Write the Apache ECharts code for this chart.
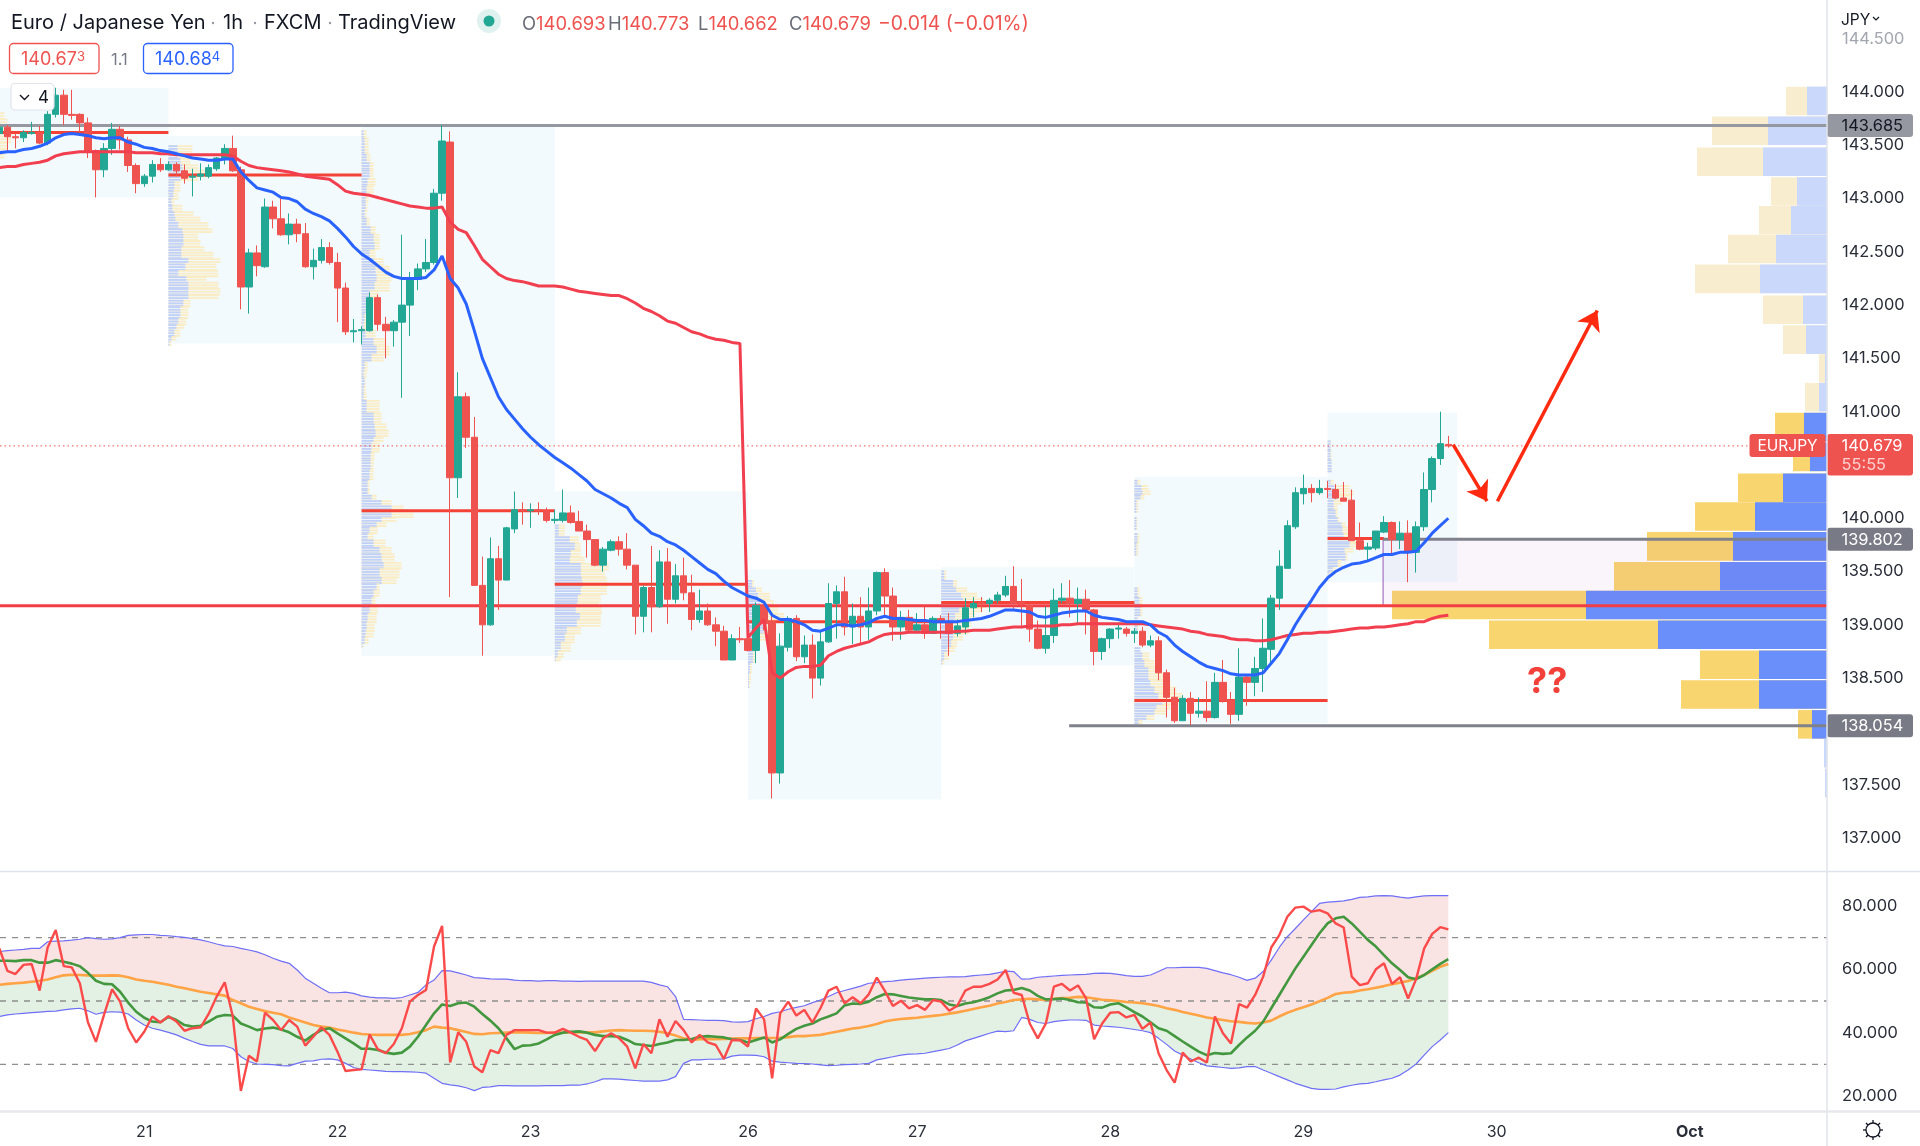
<!DOCTYPE html>
<html lang="en">
<head>
  <meta charset="UTF-8">
  <title>Euro / Japanese Yen 1h</title>
  <script src="https://cdn.jsdelivr.net/npm/echarts@6/dist/echarts.min.js"></script>
  <style>
    body { margin: 0; background: #fff; }
    #chart { width: 1920px; height: 1146px; }
  </style>
</head>
<body>
<div id="chart"></div>
<script>
  // hourly candles, one entry per bar
  const opens = [
    143.61,143.67,143.58,143.57,143.61,143.62,143.52,143.79,143.97,143.79,
    143.79,143.71,143.45,143.27,143.47,143.65,143.55,143.31,143.14,143.21,
    143.32,143.27,143.32,143.26,143.20,143.21,143.21,143.28,143.38,143.47,
    143.27,142.17,142.49,142.36,142.92,142.81,142.66,142.76,142.67,142.36,
    142.42,142.54,142.40,142.16,141.75,141.76,141.76,142.07,141.82,141.76,
    141.84,142.00,142.24,142.34,142.40,143.05,143.53,140.38,141.14,140.76,
    139.37,139.00,139.62,139.42,139.90,140.08,140.07,140.08,140.07,139.98,
    139.98,140.05,139.97,139.88,139.80,139.56,139.70,139.78,139.71,139.56,
    139.08,139.35,139.17,139.59,139.24,139.46,139.30,139.05,139.13,139.00,
    138.94,138.67,138.87,138.87,138.76,139.18,139.03,137.61,138.79,139.06,
    138.70,138.81,138.50,138.84,139.20,139.31,138.98,139.08,138.98,139.13,
    139.49,139.27,138.98,139.07,138.95,139.00,138.92,139.06,139.03,138.92,
    138.98,139.16,139.21,139.20,139.23,139.28,139.36,139.21,139.18,138.96,
    138.78,138.90,139.23,139.25,139.20,139.24,139.14,138.75,138.87,138.96,
    138.96,138.92,138.94,138.81,138.85,138.55,138.32,138.10,138.31,138.17,
    138.19,138.13,138.46,138.29,138.16,138.51,138.46,138.59,138.77,139.25,
    139.53,139.92,140.23,140.28,140.24,140.28,140.27,140.19,140.17,139.79,
    139.71,139.72,139.87,139.96,139.80,139.86,139.68,139.92,140.27,140.56,
    140.693
  ];
  const closes = [
    143.67,143.58,143.57,143.62,143.62,143.52,143.79,143.97,143.79,143.78,
    143.71,143.45,143.27,143.47,143.65,143.55,143.31,143.14,143.21,143.32,
    143.27,143.32,143.26,143.19,143.21,143.23,143.29,143.38,143.47,143.26,
    142.17,142.49,142.37,142.92,142.81,142.66,142.76,142.67,142.36,142.42,
    142.54,142.40,142.16,141.75,141.76,141.77,142.07,141.82,141.76,141.84,
    142.00,142.25,142.34,142.40,143.05,143.54,140.38,141.14,140.76,139.37,
    139.00,139.62,139.42,139.91,140.08,140.07,140.08,140.07,139.98,139.99,
    140.05,139.96,139.88,139.80,139.56,139.71,139.78,139.71,139.56,139.08,
    139.35,139.17,139.59,139.24,139.46,139.30,139.05,139.13,139.00,138.94,
    138.67,138.87,138.86,138.76,139.18,139.01,137.61,138.80,139.06,138.70,
    138.81,138.50,138.84,139.20,139.31,138.98,139.08,138.98,139.13,139.49,
    139.27,138.98,139.07,138.95,139.00,138.92,139.06,139.03,138.92,138.99,
    139.16,139.20,139.20,139.23,139.28,139.36,139.20,139.19,138.96,138.78,
    138.90,139.23,139.25,139.20,139.24,139.14,138.75,138.87,138.96,138.97,
    138.92,138.94,138.81,138.85,138.55,138.32,138.10,138.31,138.17,138.19,
    138.13,138.46,138.29,138.16,138.51,138.46,138.59,138.78,139.25,139.55,
    139.93,140.24,140.28,140.24,140.28,140.27,140.19,140.16,139.79,139.71,
    139.73,139.88,139.96,139.80,139.86,139.68,139.92,140.27,140.56,140.70,
    140.679
  ];
  const highs = [
    143.70,143.69,143.61,143.64,143.72,143.68,143.82,144.04,144.02,144.02,
    143.80,143.76,143.46,143.52,143.71,143.68,143.58,143.33,143.23,143.36,
    143.38,143.35,143.34,143.32,143.28,143.33,143.32,143.39,143.51,143.59,
    143.30,142.53,142.56,143.00,142.98,143.00,142.86,142.81,142.77,142.53,
    142.62,142.59,142.49,142.21,141.87,141.80,142.12,142.10,141.89,141.86,
    142.66,142.31,142.39,142.62,143.09,143.69,143.63,141.37,141.18,140.95,
    139.64,139.82,139.74,139.92,140.25,140.15,140.14,140.15,140.10,140.08,
    140.27,140.12,140.07,139.94,139.80,139.73,139.80,139.83,139.86,139.56,
    139.37,139.74,139.70,139.72,139.57,139.63,139.47,139.33,139.20,139.07,
    138.99,138.91,138.98,138.88,139.21,139.19,139.11,138.92,139.08,139.09,
    138.90,138.91,138.93,139.39,139.37,139.45,139.20,139.26,139.35,139.50,
    139.53,139.35,139.13,139.14,139.11,139.17,139.08,139.09,139.11,139.05,
    139.25,139.26,139.26,139.25,139.31,139.46,139.55,139.43,139.20,139.04,
    139.17,139.34,139.39,139.42,139.35,139.33,139.15,138.88,138.97,139.02,
    138.98,138.97,138.98,138.90,138.89,138.58,138.41,138.34,138.37,138.32,
    138.47,138.55,138.67,138.37,138.78,138.53,138.70,139.06,139.28,139.70,
    139.98,140.29,140.41,140.32,140.36,140.35,140.32,140.34,140.27,139.96,
    139.77,139.88,140.02,139.97,139.97,139.98,139.97,140.43,140.58,141.00,
    140.773
  ];
  const lows = [
    143.58,143.44,143.47,143.53,143.60,143.51,143.50,143.76,143.69,143.74,
    143.62,143.38,143.01,143.20,143.41,143.46,143.25,143.05,143.11,143.15,
    143.25,143.26,143.21,143.14,143.02,143.17,143.19,143.26,143.32,143.25,
    141.96,141.92,142.27,142.35,142.72,142.65,142.57,142.59,142.35,142.24,
    142.39,142.38,141.84,141.72,141.65,141.63,141.75,141.76,141.50,141.61,
    141.13,141.71,142.14,142.31,142.38,142.98,139.26,140.19,140.66,139.37,
    138.71,138.99,139.14,139.42,139.86,139.94,139.91,140.03,139.96,139.95,
    139.96,139.95,139.88,139.63,139.55,139.50,139.69,139.65,139.52,138.91,
    138.93,138.93,139.16,139.01,139.20,139.23,138.95,139.02,138.99,138.80,
    138.67,138.67,138.83,138.75,138.64,138.95,137.37,137.51,138.75,138.66,
    138.64,138.31,138.43,138.83,138.87,138.90,138.82,138.83,138.86,139.09,
    139.08,138.85,138.86,138.92,138.92,138.87,138.92,138.87,138.71,138.89,
    138.91,139.07,139.12,139.12,139.20,139.26,139.15,138.99,138.84,138.77,
    138.73,138.83,139.20,139.07,139.01,138.91,138.62,138.67,138.78,138.87,
    138.89,138.83,138.79,138.79,138.48,138.13,138.08,138.10,138.06,138.13,
    138.09,138.12,138.27,138.07,138.10,138.24,138.33,138.37,138.64,139.14,
    139.53,139.90,140.13,140.15,140.22,140.19,140.18,140.16,139.79,139.70,
    139.60,139.70,139.86,139.65,139.71,139.40,139.49,139.88,140.15,140.50,
    140.662
  ];

  // moving averages on price
  const fastMa = [
    143.43,143.44,143.44,143.46,143.47,143.49,143.52,143.57,143.60,143.61,
    143.60,143.59,143.57,143.56,143.57,143.57,143.53,143.51,143.48,143.47,
    143.45,143.44,143.42,143.40,143.38,143.37,143.36,143.36,143.37,143.37,
    143.25,143.17,143.10,143.08,143.06,143.01,143.00,142.97,142.90,142.86,
    142.83,142.79,142.72,142.64,142.55,142.48,142.43,142.37,142.31,142.27,
    142.25,142.25,142.25,142.26,142.33,142.46,142.25,142.16,142.01,141.76,
    141.50,141.32,141.14,141.02,140.93,140.84,140.76,140.69,140.63,140.57,
    140.52,140.47,140.41,140.35,140.27,140.23,140.19,140.14,140.10,139.99,
    139.93,139.86,139.83,139.78,139.75,139.70,139.64,139.58,139.52,139.48,
    139.41,139.35,139.31,139.27,139.25,139.21,139.09,139.05,139.05,139.03,
    139.00,138.95,138.94,138.97,139.00,139.00,138.99,139.00,139.02,139.06,
    139.08,139.06,139.06,139.05,139.04,139.04,139.03,139.03,139.03,139.03,
    139.04,139.05,139.06,139.08,139.11,139.14,139.14,139.13,139.12,139.08,
    139.07,139.09,139.11,139.12,139.13,139.13,139.09,139.07,139.06,139.05,
    139.03,139.03,139.03,139.00,138.93,138.89,138.81,138.75,138.70,138.65,
    138.61,138.59,138.57,138.54,138.53,138.53,138.53,138.55,138.64,138.73,
    138.86,139.00,139.12,139.23,139.35,139.44,139.50,139.54,139.57,139.58,
    139.60,139.63,139.66,139.66,139.68,139.68,139.69,139.77,139.86,139.93,
    140.00
  ];
  const slowMa = [
    143.29,143.30,143.30,143.32,143.33,143.34,143.36,143.40,143.42,143.43,
    143.44,143.44,143.44,143.44,143.44,143.44,143.44,143.43,143.43,143.43,
    143.42,143.42,143.41,143.41,143.41,143.41,143.41,143.41,143.41,143.40,
    143.35,143.31,143.29,143.28,143.27,143.26,143.25,143.23,143.21,143.20,
    143.19,143.18,143.13,143.07,143.05,143.04,143.03,143.01,142.99,142.97,
    142.95,142.93,142.92,142.91,142.91,142.92,142.78,142.71,142.68,142.56,
    142.43,142.36,142.29,142.25,142.23,142.22,142.20,142.18,142.18,142.18,
    142.17,142.15,142.13,142.12,142.11,142.10,142.09,142.09,142.06,142.02,
    141.97,141.94,141.90,141.85,141.83,141.79,141.75,141.73,141.70,141.68,
    141.67,141.65,141.64,138.88,138.97,139.05,138.55,138.50,138.56,138.60,
    138.61,138.61,138.62,138.71,138.75,138.78,138.80,138.82,138.84,138.88,
    138.91,138.92,138.92,138.93,138.93,138.93,138.93,138.93,138.93,138.94,
    138.94,138.95,138.95,138.95,138.96,138.97,138.98,138.98,138.99,138.99,
    138.99,138.99,139.00,139.00,139.01,139.01,139.01,139.01,139.01,139.01,
    139.01,139.01,139.01,139.00,138.99,138.98,138.97,138.96,138.94,138.93,
    138.91,138.90,138.89,138.87,138.86,138.86,138.85,138.85,138.86,138.88,
    138.90,138.91,138.92,138.92,138.93,138.93,138.94,138.95,138.96,138.97,
    138.97,138.98,138.98,138.99,139.00,139.01,139.03,139.03,139.06,139.08,
    139.09
  ];

  // RSI pane
  const rsi = [
    66.6,59.5,58.5,61.4,61.7,53.3,66.9,72.4,61.0,60.6,
    55.6,43.3,37.1,45.6,53.7,49.8,41.4,36.9,40.3,45.1,
    43.2,45.2,43.5,40.6,41.4,41.7,45.9,51.4,55.9,45.1,
    21.6,32.7,30.9,46.3,44.0,40.8,44.0,41.9,35.9,38.7,
    41.7,39.3,34.0,27.9,28.2,28.4,39.4,34.8,33.5,36.4,
    41.4,49.8,51.9,53.5,67.2,73.7,30.6,40.1,37.1,29.3,
    27.5,34.5,33.5,39.3,40.8,40.8,40.8,40.8,40.0,40.0,
    41.2,40.0,38.7,37.7,34.2,38.2,39.8,38.2,35.6,28.7,
    36.4,33.5,44.2,38.7,43.7,40.8,36.9,39.3,36.9,36.1,
    31.7,37.7,37.6,35.6,47.6,44.2,25.6,46.1,49.8,45.4,
    47.2,43.2,47.7,53.3,54.5,49.3,51.2,49.3,52.1,57.4,
    53.2,48.4,50.1,47.7,48.7,47.2,50.3,49.8,46.9,48.5,
    53.3,54.5,54.5,55.4,56.8,59.8,52.6,51.9,42.9,38.2,
    42.9,54.5,55.4,53.3,54.9,50.8,37.9,42.9,46.3,46.5,
    44.8,45.6,41.2,43.2,33.5,28.2,24.2,33.7,30.9,32.1,
    30.6,45.1,39.8,36.6,49.0,47.9,51.9,57.7,66.9,70.8,
    76.6,79.5,79.8,78.2,78.7,77.7,74.5,73.2,57.7,55.0,
    55.6,60.0,61.9,55.4,57.5,50.8,56.9,66.6,71.2,73.3,
    72.6
  ];
  const rsiMa = [
    62.7,62.7,62.6,62.9,62.9,62.1,62.1,62.9,62.4,61.8,
    61.0,58.9,56.4,55.4,55.3,52.9,49.5,46.6,44.7,43.5,
    43.3,45.0,44.0,42.4,41.9,42.2,43.5,45.0,45.6,45.4,
    42.9,41.9,40.8,41.3,41.6,41.0,40.1,38.7,37.5,39.3,
    40.8,41.4,39.8,38.2,36.6,34.9,34.9,34.5,33.7,33.3,
    33.7,35.6,38.7,42.4,46.1,48.9,48.4,49.3,49.5,48.2,
    45.9,43.8,41.4,38.2,34.8,35.9,36.0,36.6,37.9,39.3,
    40.0,40.3,40.4,40.0,39.3,38.9,38.9,38.7,37.7,36.4,
    36.1,35.8,36.4,36.9,37.7,37.7,38.0,38.7,38.9,38.7,
    38.5,37.9,37.7,36.9,37.7,38.5,36.9,37.9,39.6,41.2,
    42.2,42.9,44.2,45.1,46.1,48.6,49.2,49.1,49.8,51.2,
    52.2,52.1,51.6,51.1,50.8,50.5,50.5,50.3,48.9,48.4,
    49.2,49.6,50.3,51.2,52.4,53.3,53.5,54.1,53.3,51.6,
    50.5,50.6,50.8,50.3,49.6,49.5,48.0,47.9,48.9,49.3,
    48.0,46.5,45.1,43.3,41.4,40.6,38.9,37.2,35.6,34.0,
    32.9,33.6,33.3,33.5,36.1,38.5,40.6,43.5,47.7,51.9,
    56.1,60.3,64.0,67.7,71.4,74.5,76.1,76.6,74.5,71.9,
    69.3,67.2,64.5,61.9,59.8,57.5,56.9,58.2,60.0,61.7,
    63.2
  ];
  const rsiLongMa = [
    55.1,55.4,55.6,55.8,56.1,56.4,56.8,57.5,58.1,58.3,
    58.2,58.1,58.0,58.0,58.1,58.0,57.5,56.8,56.4,56.1,
    55.6,55.1,54.5,54.0,53.5,52.9,52.5,52.1,51.7,50.3,
    49.3,48.2,47.5,46.8,46.3,45.8,44.8,44.0,43.2,42.4,
    41.9,41.6,41.0,40.5,40.0,39.6,39.4,39.3,39.3,39.3,
    39.3,39.6,40.1,40.8,41.9,41.6,41.4,40.8,40.2,39.6,
    39.5,39.8,39.9,40.0,40.1,40.1,40.0,39.9,39.9,40.0,
    40.0,40.1,40.1,40.1,40.1,40.4,40.7,40.8,40.7,40.6,
    40.6,40.5,40.3,39.8,39.1,38.2,37.7,37.9,37.9,37.9,
    38.0,38.1,38.2,38.2,38.3,38.3,38.3,38.4,38.6,38.9,
    38.9,39.1,39.3,39.8,40.3,40.8,41.3,41.6,42.1,42.7,
    43.5,44.0,44.3,44.5,44.7,45.0,45.3,45.6,46.0,46.4,
    46.9,47.5,48.0,48.5,49.2,49.7,50.3,50.5,50.7,50.5,
    50.3,50.7,50.9,51.0,51.3,51.2,50.8,50.4,50.2,50.0,
    49.7,49.5,49.3,48.9,48.4,47.7,47.2,46.5,46.0,45.4,
    44.8,44.4,44.0,43.6,43.4,43.1,42.9,43.2,43.8,45.1,
    46.3,47.2,48.0,48.9,49.9,51.0,52.2,52.6,52.8,53.3,
    53.7,54.2,54.7,55.3,55.8,56.3,57.2,58.2,59.5,60.8,
    61.7
  ];
  const rsiUpper = [
    65.6,65.9,66.1,66.3,66.6,66.6,68.7,68.9,69.0,69.2,
    69.5,70.0,69.7,69.5,69.6,70.0,70.7,70.9,71.0,71.0,
    70.7,70.6,70.3,70.1,69.7,69.3,68.7,68.0,67.4,67.2,
    66.6,66.1,65.5,64.6,63.5,62.6,61.9,59.8,57.2,55.6,
    54.0,52.6,52.6,52.8,52.4,51.6,51.2,51.0,51.0,50.8,
    51.1,51.9,52.7,55.1,56.6,59.6,59.5,58.9,58.2,57.4,
    57.2,57.0,56.9,56.9,56.6,56.4,56.4,56.3,56.4,56.4,
    56.3,56.3,56.2,56.3,56.3,56.3,56.3,56.3,56.3,56.3,
    56.3,55.9,55.1,54.5,51.4,44.2,44.1,44.0,43.9,43.9,
    43.8,43.4,43.3,43.5,44.4,45.1,46.1,46.6,47.4,48.0,
    48.5,49.5,50.3,51.4,52.6,53.3,54.0,54.7,55.6,55.8,
    56.1,56.3,56.6,56.8,57.0,57.2,57.4,57.5,57.6,57.6,
    57.7,58.0,58.2,58.4,58.9,59.4,59.3,56.9,57.0,57.5,
    57.7,57.9,58.1,58.2,58.3,58.4,58.7,58.8,58.7,58.4,
    58.0,57.8,57.8,58.2,59.3,60.5,60.5,60.6,60.6,60.6,
    60.3,59.6,58.9,58.3,57.5,56.5,57.2,59.3,62.9,66.9,
    70.3,72.9,75.6,78.2,80.8,81.2,81.4,81.6,82.1,82.7,
    82.9,83.2,83.3,83.2,82.8,82.5,82.9,83.2,83.3,83.3,
    83.3
  ];
  const rsiLower = [
    45.1,45.6,45.9,46.1,46.3,46.5,46.7,46.8,47.2,47.5,
    47.7,46.9,45.8,46.4,46.6,46.5,45.9,44.0,42.4,41.4,
    40.8,40.1,39.3,38.2,37.2,36.3,35.8,35.8,35.8,35.0,
    32.4,30.9,30.1,30.0,29.9,29.6,29.5,30.3,31.0,31.1,
    31.6,31.7,31.4,30.3,29.0,28.4,28.2,28.0,27.8,27.7,
    27.7,27.6,27.5,27.2,25.6,24.0,23.5,23.2,22.6,21.7,
    22.7,22.9,23.3,23.3,23.2,23.2,23.2,23.2,23.3,23.3,
    23.3,23.4,23.4,23.8,24.5,25.4,25.4,25.3,25.1,24.9,
    24.7,24.7,24.7,25.1,26.1,30.3,31.4,31.4,31.6,31.6,
    31.7,32.6,32.9,32.9,32.8,32.4,31.0,30.7,30.5,30.3,
    30.2,30.1,29.8,29.6,29.7,29.9,30.0,30.1,30.3,31.4,
    31.9,32.4,32.9,33.2,33.3,33.5,34.0,34.5,35.0,36.1,
    37.4,38.2,39.0,39.8,40.5,40.3,40.6,44.8,44.2,43.2,
    42.9,43.5,43.8,44.0,44.0,43.9,42.4,42.1,41.9,41.7,
    41.4,41.0,40.6,40.0,38.2,36.3,34.2,32.9,31.7,30.5,
    29.5,29.3,29.0,28.7,28.9,29.3,29.3,28.2,27.2,26.1,
    25.1,24.0,23.2,22.4,22.1,22.1,22.2,22.9,23.4,23.8,
    24.0,24.5,25.1,25.6,26.6,28.2,30.1,32.9,35.6,37.7,
    40.0
  ];
  const rsiLevels = [70, 50, 30];

  // session boxes (bar index and price range)
  const sessionStart = [0, 21, 45, 69, 93, 117, 141, 165];
  const sessionEnd = [21, 45, 69, 93, 117, 141, 165, 181.1];
  const sessionHigh = [144.04, 143.59, 143.69, 140.25, 139.52, 139.54, 140.39, 140.99];
  const sessionLow = [143.01, 141.64, 138.71, 138.67, 137.36, 138.62, 138.08, 139.40];
  const pocPrice = [143.62, 143.22, 140.07, 139.38, 139.03, 139.21, 138.29, 139.81];
  const pocEnd = [21, 45, 69, 93, 117, 141, 165, 172];

  // session volume profiles: price of the row, buy part, whole row
  const s0Price = [143.81,143.75,143.70,143.64,143.59,143.53,143.47,143.42];
  const s0Buy = [0,0,0,0,0,0,0,0];
  const s0Total = [5,8,12,14,12,8,7,5];
  const s1Price = [143.50,143.44,143.38,143.32,143.27,143.21,143.16,143.08,143.00,142.94,142.88,142.83,142.78,142.72,142.67,142.61,142.55,142.50,142.44,142.39,142.33,142.27,142.22,142.16,142.10,142.05,141.99,141.94,141.88,141.82,141.77,141.71,141.66];
  const s1Buy = [9,9,12,14,15,12,6,5,3,4,6,7,10,14,15,15,13,13,20,17,10,18,20,20,20,15,12,12,10,8,6,3,1];
  const s1Total = [24,15,22,30,40,30,12,10,6,14,25,32,40,44,30,32,36,45,52,48,50,38,50,52,50,22,20,20,18,16,12,8,3];
  const s2Price = [143.64,143.57,143.49,143.42,143.34,143.27,143.19,143.12,143.04,142.97,142.89,142.82,142.74,142.67,142.59,142.52,142.44,142.37,142.29,142.22,142.14,142.07,141.99,141.92,141.84,141.77,141.69,141.62,141.54,141.47,141.39,141.32,141.24,141.17,141.11,140.99,140.89,140.83,140.76,140.71,140.62,140.55,140.45,140.36,140.27,140.22,140.17,140.12,140.07,140.01,139.96,139.92,139.86,139.80,139.73,139.67,139.59,139.53,139.45,139.39,139.33,139.26,139.17,139.11,139.03,138.95,138.89,138.83];
  const s2Buy = [2,3,3,5,8,8,6,5,4,4,3,5,9,12,13,8,12,14,15,13,8,6,5,3,2,4,12,15,10,3,2,3,2,2,5,12,13,14,12,10,9,9,8,6,6,10,20,30,30,20,15,8,6,12,18,20,22,18,20,15,12,10,8,6,5,4,3,1];
  const s2Total = [5,7,7,9,12,12,14,12,7,6,5,8,14,18,18,14,22,28,30,28,17,12,8,6,5,14,24,28,22,6,5,4,4,5,18,20,25,27,22,18,13,12,12,8,8,15,30,42,52,35,25,16,12,24,30,33,40,38,35,18,18,14,16,15,13,12,7,2];
  const s3Price = [139.94,139.83,139.77,139.70,139.64,139.58,139.51,139.45,139.40,139.35,139.28,139.21,139.17,139.11,139.05,138.98,138.92,138.84,138.76,138.70];
  const s3Buy = [4,15,20,16,15,26,26,27,28,26,23,22,21,25,22,12,10,6,3,1];
  const s3Total = [10,24,26,26,30,54,50,52,53,52,46,44,47,46,46,26,20,16,9,6];
  const s4Price = [139.42,139.35,139.30,139.23,139.17,139.11,139.05,138.98,138.92,138.86,138.76,138.64,138.55,138.45];
  const s4Buy = [4,8,10,12,14,16,18,16,12,8,5,2,1,1];
  const s4Total = [6,14,22,26,30,36,28,22,18,10,7,4,3,2];
  const s5Price = [139.51,139.42,139.35,139.30,139.25,139.20,139.16,139.11,139.05,138.98,138.92,138.86,138.79,138.74,138.67];
  const s5Buy = [3,12,15,20,22,25,18,14,12,14,12,10,6,3,1];
  const s5Total = [5,16,26,36,42,45,40,34,30,28,22,16,14,8,3];
  const s6Price = [140.36,140.31,140.26,140.22,140.17,140.01,139.86,139.77,139.35,139.26,139.20,139.07,138.79,138.74,138.67,138.60,138.55,138.48,138.42,138.36,138.29,138.25,138.20,138.15,138.11];
  const s6Buy = [3,7,8,6,2,2,3,2,3,5,6,3,6,8,10,14,14,16,20,24,28,22,20,12,4];
  const s6Total = [6,14,16,10,4,3,5,4,5,8,8,4,6,15,20,25,30,36,42,48,50,36,32,20,8];
  const s7Price = [140.73,140.64,140.55,140.36,140.31,140.26,140.22,140.17,140.12,140.08,140.01,139.96,139.92,139.86,139.81,139.77,139.72,139.67,139.61,139.54,139.50];
  const s7Buy = [3,3,4,3,7,8,10,6,6,8,10,14,15,16,22,22,17,18,10,5,2];
  const s7Total = [3,4,4,6,22,26,24,14,10,10,12,18,22,27,30,30,26,20,14,8,4];

  // visible range volume profile docked on the price axis
  const rangeHigh = [144.05,143.77,143.48,143.20,142.93,142.66,142.38,142.09,141.81,141.54,141.27,140.99,140.71,140.42,140.15,139.87,139.59,139.32,139.04,138.76,138.48,138.20,137.93,137.65];
  const rangeBuy = [20,59,64,30,36,51,67,24,21,2,8,23,17,44,72,94,107,241,169,68,68,15,3,2];
  const rangeTotal = [41,115,130,56,68,99,132,64,44,8,22,52,34,89,132,180,213,435,338,127,146,29,3,2];
  const rangeValueArea = [0,0,0,0,0,0,0,0,0,0,0,1,1,1,1,1,1,1,1,1,1,1,0,0];

  // drawn levels and annotations
  const topLevel = 143.685, midLevel = 139.802, lowLevel = 138.054, mainLevel = 139.18, lastPrice = 140.679;
  const midLevelStart = 171.9, lowLevelStart = 132.9;
  const downArrow = [[180.6, 140.69], [184.8, 140.16]];
  const upArrow = [[186.1, 140.16], [198.5, 141.95]];

  const priceTicks = [137, 137.5, 138.5, 139, 139.5, 140, 141, 141.5, 142, 142.5, 143, 143.5, 144, 144.5];
  const rsiTicks = [20, 40, 60, 80];
  const dayTicks = [18, 42, 66, 93, 114, 138, 162, 186, 210];
  const dayLabels = ['21', '22', '23', '26', '27', '28', '29', '30', 'Oct'];

  const tagPrices = [topLevel, midLevel, lowLevel];
  const tagLabels = ['143.685', '139.802', '138.054'];

  const ohlcNames = ['O', 'H', 'L', 'C'];
  const ohlcValues = ['140.693', '140.773', '140.662', '140.679'];
  const ohlcLeft = [522, 608, 698, 789];

  const X_MIN = 0.08, X_MAX = 227.04;
  const FONT = 'Inter, "Liberation Sans", sans-serif';
  const TEAL = '#22a795', RED = '#ef5350';

  function xy(values) {
    return values.map(function (v, i) { return [i, v]; });
  }

  function hLine(price, from, to, color, width, gridIndex, z, type) {
    return {
      type: 'line', xAxisIndex: gridIndex, yAxisIndex: gridIndex, z: z, silent: true,
      showSymbol: false, symbol: 'none', animation: false,
      lineStyle: { color: color, width: width, type: type || 'solid' },
      data: [[from, price], [to, price]]
    };
  }

  function maLine(values, color, width, gridIndex, z) {
    return {
      type: 'line', xAxisIndex: gridIndex, yAxisIndex: gridIndex, z: z, silent: true,
      showSymbol: false, symbol: 'none', animation: false,
      lineStyle: { color: color, width: width },
      data: xy(values)
    };
  }

  // area between two RSI curves
  function bandFill(top, bottom, color) {
    return {
      type: 'custom', xAxisIndex: 1, yAxisIndex: 1, z: 1, silent: true, animation: false,
      data: [[0]],
      encode: { x: 0 },
      renderItem: function (params, api) {
        const pts = [];
        top.forEach(function (v, i) { pts.push(api.coord([i, v])); });
        for (let i = bottom.length - 1; i >= 0; i--) pts.push(api.coord([i, bottom[i]]));
        return { type: 'polygon', shape: { points: pts }, style: { fill: color } };
      }
    };
  }

  const profiles = [
    [s0Price, s0Buy, s0Total], [s1Price, s1Buy, s1Total], [s2Price, s2Buy, s2Total], [s3Price, s3Buy, s3Total],
    [s4Price, s4Buy, s4Total], [s5Price, s5Buy, s5Total], [s6Price, s6Buy, s6Total], [s7Price, s7Buy, s7Total]
  ];
  const profileRows = [];
  profiles.forEach(function (p, s) {
    p[0].forEach(function (price, i) {
      // span reaches down to the next row that was read
      const next = i + 1 < p[0].length ? p[0][i + 1] : price - 0.03;
      profileRows.push([sessionStart[s], price, p[1][i], p[2][i], next]);
    });
  });

  const series = [
    // session boxes
    {
      type: 'custom', xAxisIndex: 0, yAxisIndex: 0, z: 1, silent: true, animation: false,
      data: sessionStart.map(function (s, i) { return [s, sessionEnd[i], sessionHigh[i], sessionLow[i]]; }),
      encode: { x: [0, 1], y: [2, 3] },
      renderItem: function (params, api) {
        const a = api.coord([api.value(0), api.value(2)]);
        const b = api.coord([api.value(1), api.value(3)]);
        return { type: 'rect', shape: { x: Math.max(a[0], 0), y: a[1], width: b[0] - Math.max(a[0], 0), height: b[1] - a[1] }, style: { fill: '#f2fafd' } };
      }
    },
    // session profiles, thin stripes: the whole row in yellow and the buy part in blue on top
    {
      type: 'custom', xAxisIndex: 0, yAxisIndex: 0, z: 2, silent: true, animation: false,
      data: profileRows,
      encode: { x: 0, y: 1 },
      renderItem: function (params, api) {
        const p = api.coord([api.value(0), api.value(1)]);
        const end = api.coord([api.value(0), api.value(4)]);
        const span = Math.min(end[1] - p[1], 12);
        const children = [];
        for (let y = 0; y < span; y += 2.7) {
          children.push({ type: 'rect', shape: { x: p[0], y: p[1] + y, width: api.value(3), height: 1.8 }, style: { fill: '#faecc4' } });
          children.push({ type: 'rect', shape: { x: p[0], y: p[1] + y, width: api.value(2), height: 1.8 }, style: { fill: '#bfd0fb' } });
        }
        return { type: 'group', children: children };
      }
    },
    // visible range profile
    {
      type: 'custom', xAxisIndex: 0, yAxisIndex: 0, z: 2, silent: true, animation: false,
      data: rangeHigh.map(function (h, i) { return [h, rangeBuy[i], rangeTotal[i]]; }),
      encode: { y: 0 },
      renderItem: function (params, api) {
        const top = api.coord([X_MAX, api.value(0)]);
        const bottom = api.coord([X_MAX, api.value(0) - 0.268]);
        const inArea = rangeValueArea[params.dataIndex];
        const h = bottom[1] - top[1];
        return {
          type: 'group',
          children: [
            { type: 'rect', shape: { x: top[0] - api.value(2), y: top[1], width: api.value(2), height: h }, style: { fill: inArea ? '#f9d56f' : '#f8eecf' } },
            { type: 'rect', shape: { x: top[0] - api.value(1), y: top[1], width: api.value(1), height: h }, style: { fill: inArea ? '#6a8ffa' : '#c9d8fb' } }
          ]
        };
      }
    },
    // shaded box between the two levels
    {
      type: 'custom', xAxisIndex: 0, yAxisIndex: 0, z: 3, silent: true, animation: false,
      data: [[midLevelStart, X_MAX, midLevel, mainLevel]],
      encode: { x: [0, 1], y: [2, 3] },
      renderItem: function (params, api) {
        const a = api.coord([api.value(0), api.value(2)]);
        const b = api.coord([api.value(1), api.value(3)]);
        return {
          type: 'group',
          children: [
            { type: 'rect', shape: { x: a[0], y: a[1], width: b[0] - a[0], height: b[1] - a[1] }, style: { fill: 'rgba(156,39,176,0.05)' } },
            { type: 'line', shape: { x1: a[0], y1: a[1], x2: a[0], y2: b[1] }, style: { stroke: '#b78ccf', lineWidth: 1.5 } }
          ]
        };
      }
    }
  ];

  pocPrice.forEach(function (p, i) {
    series.push(hLine(p, Math.max(sessionStart[i], X_MIN), pocEnd[i], '#f44336', 3, 0, 4));
  });
  series.push(hLine(topLevel, X_MIN, X_MAX, '#9598a1', 3, 0, 4));
  series.push(hLine(midLevel, midLevelStart, X_MAX, '#7f818b', 3, 0, 4));
  series.push(hLine(lowLevel, lowLevelStart, X_MAX, '#7f818b', 3, 0, 4));
  series.push(hLine(mainLevel, X_MIN, X_MAX, '#f23f45', 3, 0, 4));
  series.push(hLine(lastPrice, X_MIN, X_MAX, '#ef5350', 1, 0, 4, [1.5, 3]));

  series.push({
    type: 'candlestick', xAxisIndex: 0, yAxisIndex: 0, z: 5, silent: true, animation: false,
    barWidth: 7,
    itemStyle: { color: TEAL, color0: RED, borderColor: TEAL, borderColor0: RED, borderWidth: 1 },
    data: opens.map(function (o, i) { return [i, o, closes[i], lows[i], highs[i]]; })
  });
  series.push(maLine(slowMa, '#f23f4f', 3, 0, 6));
  series.push(maLine(fastMa, '#2962ff', 3, 0, 6));

  // hand drawn arrows
  series.push({
    type: 'line', xAxisIndex: 0, yAxisIndex: 0, z: 7, silent: true, animation: false, data: [],
    markLine: {
      silent: true, animation: false, symbol: ['none', 'arrow'], symbolSize: 19,
      label: { show: false },
      lineStyle: { color: '#ff2a0f', width: 3.5, type: 'solid' },
      data: [downArrow, upArrow].map(function (a) {
        return [{ coord: a[0] }, { coord: a[1] }];
      })
    }
  });

  // price tags on the axis
  series.push({
    type: 'custom', xAxisIndex: 0, yAxisIndex: 0, z: 10, silent: true, animation: false, clip: false,
    data: tagPrices.map(function (p) { return [p]; }),
    encode: { y: 0 },
    renderItem: function (params, api) {
      const p = api.coord([X_MAX, api.value(0)]);
      const first = params.dataIndex === 0;
      return {
        type: 'group',
        children: [
          { type: 'rect', shape: { x: p[0], y: p[1] - 11.5, width: 86, height: 23, r: 3 }, style: { fill: first ? '#9598a1' : '#787b86' } },
          { type: 'text', style: { x: p[0] + 14.5, y: p[1] + 0.5, text: tagLabels[params.dataIndex], fill: first ? '#131722' : '#fff', font: '16.4px ' + FONT, verticalAlign: 'middle' } }
        ]
      };
    }
  });
  series.push({
    type: 'custom', xAxisIndex: 0, yAxisIndex: 0, z: 10, silent: true, animation: false, clip: false,
    data: [[lastPrice]],
    encode: { y: 0 },
    renderItem: function (params, api) {
      const p = api.coord([X_MAX, api.value(0)]);
      return {
        type: 'group',
        children: [
          { type: 'rect', shape: { x: p[0], y: p[1] - 12, width: 86, height: 41.5, r: 3 }, style: { fill: RED } },
          { type: 'rect', shape: { x: p[0] - 77.5, y: p[1] - 12, width: 76, height: 23, r: 3 }, style: { fill: RED } },
          { type: 'text', style: { x: p[0] + 14.5, y: p[1] + 0.5, text: '140.679', fill: '#fff', font: '16.4px ' + FONT, verticalAlign: 'middle' } },
          { type: 'text', style: { x: p[0] + 14.5, y: p[1] + 19, text: '55:55', fill: '#fbd0d0', font: '16.4px ' + FONT, verticalAlign: 'middle' } },
          { type: 'text', style: { x: p[0] - 69.5, y: p[1] + 0.5, text: 'EURJPY', fill: '#fff', font: '15.5px ' + FONT, verticalAlign: 'middle' } }
        ]
      };
    }
  });

  // RSI pane
  series.push(bandFill(rsiUpper, rsiLongMa, '#fae3e3'));
  series.push(bandFill(rsiLongMa, rsiLower, '#e3f0e4'));
  rsiLevels.forEach(function (v) {
    series.push(hLine(v, X_MIN, X_MAX, '#8f8f8f', 1.3, 1, 2, [6, 6]));
  });
  series.push(maLine(rsiUpper, '#6e6ef7', 1.2, 1, 3));
  series.push(maLine(rsiLower, '#6e6ef7', 1.2, 1, 3));
  series.push(maLine(rsiLongMa, '#ffa345', 2.6, 1, 4));
  series.push(maLine(rsiMa, '#43983f', 2.6, 1, 5));
  series.push(maLine(rsi, '#fb4a4a', 2.4, 1, 6));

  const chrome = [
    { type: 'line', shape: { x1: 1827, y1: 0, x2: 1827, y2: 1146 }, style: { stroke: '#e0e3eb', lineWidth: 1.5 } },
    { type: 'line', shape: { x1: 0, y1: 871.5, x2: 1920, y2: 871.5 }, style: { stroke: '#e0e3eb', lineWidth: 1.5 } },
    { type: 'line', shape: { x1: 0, y1: 1111.5, x2: 1920, y2: 1111.5 }, style: { stroke: '#e6e8ec', lineWidth: 2.5 } },
    { type: 'text', style: { x: 11, y: 23, text: 'Euro / Japanese Yen', font: '20px ' + FONT, fill: '#131722', verticalAlign: 'middle' } },
    { type: 'text', style: { x: 223, y: 23, text: '1h', font: '20px ' + FONT, fill: '#131722', verticalAlign: 'middle' } },
    { type: 'text', style: { x: 264, y: 23, text: 'FXCM', font: '20px ' + FONT, fill: '#131722', verticalAlign: 'middle' } },
    { type: 'text', style: { x: 338, y: 23, text: 'TradingView', font: '20px ' + FONT, fill: '#131722', verticalAlign: 'middle' } },
    { type: 'circle', shape: { cx: 213, cy: 23, r: 1.2 }, style: { fill: '#9598a1' } },
    { type: 'circle', shape: { cx: 255, cy: 23, r: 1.2 }, style: { fill: '#9598a1' } },
    { type: 'circle', shape: { cx: 330, cy: 23, r: 1.2 }, style: { fill: '#9598a1' } },
    { type: 'circle', shape: { cx: 489, cy: 21, r: 12 }, style: { fill: '#dff2ef' } },
    { type: 'circle', shape: { cx: 489, cy: 21, r: 5.5 }, style: { fill: '#22a795' } },
    { type: 'text', style: { x: 878, y: 24, text: '\u22120.014 (\u22120.01%)', font: '19.4px ' + FONT, fill: '#ef5350', verticalAlign: 'middle' } },
    { type: 'rect', shape: { x: 9.5, y: 43.5, width: 89.5, height: 30, r: 4 }, style: { fill: '#fff', stroke: '#ef5350', lineWidth: 1.3 } },
    {
      type: 'text',
      style: {
        x: 21, y: 60, verticalAlign: 'middle', text: '{a|140.67}{b|3}',
        rich: { a: { fill: '#ef5350', fontSize: 18, fontFamily: FONT }, b: { fill: '#ef5350', fontSize: 13, fontFamily: FONT, verticalAlign: 'top' } }
      }
    },
    { type: 'text', style: { x: 111, y: 60, text: '1.1', font: '16.5px ' + FONT, fill: '#787b86', verticalAlign: 'middle' } },
    { type: 'rect', shape: { x: 143.5, y: 43.5, width: 89.5, height: 30, r: 4 }, style: { fill: '#fff', stroke: '#2962ff', lineWidth: 1.3 } },
    {
      type: 'text',
      style: {
        x: 155, y: 60, verticalAlign: 'middle', text: '{a|140.68}{b|4}',
        rich: { a: { fill: '#2962ff', fontSize: 18, fontFamily: FONT }, b: { fill: '#2962ff', fontSize: 13, fontFamily: FONT, verticalAlign: 'top' } }
      }
    },
    { type: 'rect', shape: { x: 11, y: 83.5, width: 43, height: 26.5, r: 4 }, style: { fill: '#fff', stroke: '#e0e3eb', lineWidth: 1.2 } },
    { type: 'polyline', shape: { points: [[20, 95], [24.5, 99.5], [29, 95]] }, style: { stroke: '#131722', lineWidth: 1.4, fill: 'none' } },
    { type: 'text', style: { x: 38, y: 98, text: '4', font: '17px ' + FONT, fill: '#131722', verticalAlign: 'middle' } },
    { type: 'text', style: { x: 1841, y: 20, text: 'JPY', font: '15.5px ' + FONT, fill: '#131722', verticalAlign: 'middle' } },
    { type: 'polyline', shape: { points: [[1873, 17], [1876, 20], [1879, 17]] }, style: { stroke: '#131722', lineWidth: 1.2, fill: 'none' } },
    { type: 'text', style: { x: 1527, y: 682, text: '??', font: 'bold 36px ' + FONT, fill: '#f2413a', verticalAlign: 'middle' } },
    { type: 'circle', shape: { cx: 1873, cy: 1130, r: 7 }, style: { fill: 'none', stroke: '#131722', lineWidth: 1.3 } }
  ];
  ohlcNames.forEach(function (name, i) {
    chrome.push({
      type: 'text',
      style: {
        x: ohlcLeft[i], y: 24, verticalAlign: 'middle',
        text: '{g|' + name + '}{r|' + ohlcValues[i] + '}',
        rich: {
          g: { fill: '#6a6d78', fontSize: 18.4, fontFamily: FONT },
          r: { fill: '#ef5350', fontSize: 18.4, fontFamily: FONT }
        }
      }
    });
  });
  for (let a = 0; a < 8; a++) {
    const c = Math.cos(a * Math.PI / 4), s = Math.sin(a * Math.PI / 4);
    chrome.push({ type: 'line', shape: { x1: 1873 + 7 * c, y1: 1130 + 7 * s, x2: 1873 + 10 * c, y2: 1130 + 10 * s }, style: { stroke: '#131722', lineWidth: 1.3 } });
  }

  const axisText = { color: '#2a2e39', fontFamily: FONT, fontSize: 16.4 };

  const chart = echarts.init(document.getElementById('chart'), null, { renderer: 'canvas' });
  chart.setOption({
    animation: false,
    backgroundColor: '#fff',
    grid: [
      { left: 0, top: 0, width: 1827, height: 871 },
      { left: 0, top: 871, width: 1827, height: 240 }
    ],
    xAxis: [
      { type: 'value', gridIndex: 0, min: X_MIN, max: X_MAX, show: false, splitLine: { show: false } },
      {
        type: 'value', gridIndex: 1, min: X_MIN, max: X_MAX, splitLine: { show: false },
        axisLine: { show: false }, axisTick: { show: false },
        axisLabel: {
          customValues: dayTicks, margin: 13, color: '#2a2e39', fontFamily: FONT, fontSize: 16,
          formatter: function (v) {
            const label = dayLabels[dayTicks.indexOf(v)];
            return label === 'Oct' ? '{b|Oct}' : label;
          },
          rich: { b: { fontWeight: 'bold', fontSize: 16, fontFamily: FONT, color: '#2a2e39' } }
        }
      }
    ],
    yAxis: [
      {
        type: 'value', gridIndex: 0, position: 'right', min: 136.69, max: 144.863, splitLine: { show: false },
        axisLine: { show: false }, axisTick: { show: false },
        axisLabel: Object.assign({}, axisText, {
          customValues: priceTicks, margin: 15, showMinLabel: true, showMaxLabel: true,
          color: function (v) { return Number(v) === 144.5 ? '#a3a6af' : '#2a2e39'; },
          formatter: function (v) { return v.toFixed(3); }
        })
      },
      {
        type: 'value', gridIndex: 1, position: 'right', min: 15.26, max: 91.05, splitLine: { show: false },
        axisLine: { show: false }, axisTick: { show: false },
        axisLabel: Object.assign({}, axisText, {
          customValues: rsiTicks, margin: 15,
          formatter: function (v) { return v.toFixed(3); }
        })
      }
    ],
    series: series,
    graphic: { elements: chrome.map(function (e) { return Object.assign({ z: 50, silent: true }, e); }) }
  });
</script>
</body>
</html>
